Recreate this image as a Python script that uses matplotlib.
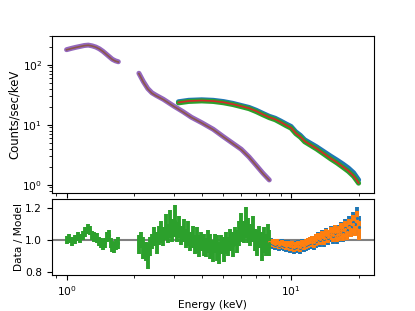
import numpy as np
import matplotlib
matplotlib.use("Agg")
import matplotlib.pyplot as plt

# --- spectrum (top panel) ---
# soft instrument, two energy chunks
e_soft1 = [1.00, 1.05, 1.10, 1.15, 1.20, 1.25, 1.30, 1.35, 1.40, 1.45, 1.50, 1.55, 1.60, 1.65, 1.70]
c_soft1 = [178, 187, 195, 202, 209, 212, 206, 197, 184, 168, 151, 136, 123, 116, 112]
m_soft1 = [177, 186, 194, 201, 208, 211, 205, 196, 183, 167, 150, 135, 122, 115, 111]

e_soft2 = [2.10, 2.20, 2.30, 2.40, 2.50, 2.70, 3.00, 3.30, 3.60, 4.00, 4.50, 5.00, 5.50,
           6.00, 6.50, 7.00, 7.50, 8.00]
c_soft2 = [72, 52, 40, 34, 31, 26.5, 20.5, 16.5, 13.3, 10.8, 8.4, 6.3, 4.9,
           3.9, 2.9, 2.1, 1.55, 1.2]
m_soft2 = [71, 51, 39.5, 33.5, 30.5, 26.2, 20.3, 16.3, 13.2, 10.7, 8.3, 6.25, 4.85,
           3.85, 2.88, 2.08, 1.53, 1.19]

# hard instruments (A = blue, B = green)
e_hard = [3.15, 3.5, 4.0, 4.5, 5.0, 5.5, 6.0, 6.5, 7.0, 7.5, 8.0, 8.5, 9.0, 9.5, 10.0,
          10.5, 11.0, 11.5, 12.0, 13.0, 14.0, 15.0, 16.0, 17.0, 18.0, 19.0, 20.0]
c_hard_a = [24.1, 25.5, 26.0, 25.5, 24.3, 22.7, 20.9, 19.4, 17.4, 15.4, 13.8, 12.8, 11.5, 10.3, 9.35,
            7.6, 6.65, 5.6, 5.1, 4.28, 3.56, 3.0, 2.58, 2.22, 1.9, 1.58, 1.2]
c_hard_b = [23.1, 24.4, 24.9, 24.4, 23.2, 21.7, 20.0, 18.5, 16.5, 14.6, 13.1, 12.1, 10.8, 9.65, 8.75,
            7.1, 6.2, 5.2, 4.72, 3.93, 3.24, 2.7, 2.31, 1.96, 1.67, 1.38, 1.06]
m_hard_a = [23.8, 25.0, 25.5, 25.0, 23.8, 22.2, 20.5, 19.0, 17.0, 15.0, 13.4, 12.4, 11.1, 9.9, 9.0,
            7.3, 6.35, 5.35, 4.85, 4.05, 3.35, 2.8, 2.38, 2.03, 1.72, 1.42, 1.09]
m_hard_b = [23.5, 24.8, 25.3, 24.8, 23.6, 22.0, 20.3, 18.8, 16.8, 14.8, 13.3, 12.3, 11.0, 9.8, 8.9,
            7.2, 6.3, 5.3, 4.8, 4.0, 3.3, 2.75, 2.35, 2.0, 1.7, 1.4, 1.07]

# --- ratios (bottom panel) ---
e_r_hard = [8.00, 8.17, 8.34, 8.52, 8.70, 8.88, 9.07, 9.26, 9.46, 9.66, 9.86, 10.07, 10.28, 10.50,
            10.72, 10.95, 11.18, 11.42, 11.66, 11.91, 12.16, 12.42, 12.68, 12.95, 13.22, 13.50,
            13.79, 14.08, 14.38, 14.68, 14.99, 15.31, 15.63, 15.96, 16.30, 16.65, 17.00, 17.36,
            17.73, 18.10, 18.49, 18.88, 19.28, 19.69, 20.00]
r_hard_a = [0.985, 0.98, 0.975, 0.97, 0.975, 0.965, 0.97, 0.965, 0.96, 0.965, 0.955, 0.96, 0.95, 0.955,
            0.96, 0.95, 0.965, 0.96, 0.97, 0.975, 0.98, 0.985, 0.98, 0.995, 1.005, 1.00, 1.015, 1.005,
            1.025, 1.015, 1.035, 1.025, 1.045, 1.03, 1.04, 1.06, 1.045, 1.075, 1.06, 1.09, 1.08,
            1.11, 1.10, 1.14, 1.08]
err_hard_a = [0.030, 0.030, 0.030, 0.032, 0.032, 0.032, 0.033, 0.033, 0.034, 0.034, 0.035, 0.035,
              0.036, 0.036, 0.037, 0.037, 0.038, 0.038, 0.039, 0.040, 0.040, 0.041, 0.042, 0.043,
              0.044, 0.045, 0.046, 0.047, 0.048, 0.049, 0.050, 0.051, 0.052, 0.053, 0.054, 0.055,
              0.056, 0.057, 0.058, 0.060, 0.062, 0.064, 0.066, 0.068, 0.070]
r_hard_b = [0.99, 0.985, 0.98, 0.975, 0.98, 0.97, 0.975, 0.97, 0.965, 0.97, 0.96, 0.965, 0.955, 0.96,
            0.965, 0.955, 0.97, 0.965, 0.975, 0.98, 0.985, 0.99, 0.985, 1.00, 1.01, 1.005, 1.02, 1.01,
            1.03, 1.02, 1.04, 1.03, 1.05, 1.03, 1.04, 1.06, 1.04, 1.07, 1.05, 1.08, 1.07, 1.10,
            1.08, 1.12, 1.06]
err_hard_b = [0.022, 0.022, 0.023, 0.023, 0.024, 0.024, 0.025, 0.025, 0.026, 0.026, 0.027, 0.027,
              0.028, 0.028, 0.029, 0.029, 0.030, 0.030, 0.031, 0.032, 0.032, 0.033, 0.034, 0.035,
              0.036, 0.037, 0.038, 0.039, 0.040, 0.041, 0.042, 0.043, 0.044, 0.045, 0.046, 0.047,
              0.048, 0.049, 0.050, 0.052, 0.054, 0.056, 0.058, 0.060, 0.062]

e_r_soft1 = [1.00, 1.03, 1.06, 1.09, 1.12, 1.15, 1.18, 1.21, 1.24, 1.27, 1.30, 1.33, 1.36, 1.39,
             1.42, 1.45, 1.48, 1.51, 1.54, 1.57, 1.60, 1.63, 1.66, 1.69]
r_soft1 = [1.00, 1.01, 0.99, 1.00, 1.02, 1.01, 1.03, 1.05, 1.07, 1.06, 1.03, 1.02, 1.01, 0.99,
           0.98, 0.97, 0.98, 1.02, 1.03, 0.98, 0.96, 0.95, 0.97, 0.98]
err_soft1 = [0.025, 0.027, 0.026, 0.028, 0.027, 0.029, 0.028, 0.030, 0.032, 0.030, 0.029, 0.030,
             0.031, 0.030, 0.032, 0.031, 0.033, 0.032, 0.034, 0.033, 0.035, 0.034, 0.036, 0.037]

e_r_soft2 = [2.10, 2.15, 2.20, 2.25, 2.30, 2.35, 2.41, 2.46, 2.52, 2.58, 2.64, 2.70, 2.76, 2.83,
             2.89, 2.96, 3.03, 3.10, 3.17, 3.24, 3.32, 3.39, 3.47, 3.55, 3.64, 3.72, 3.81, 3.89,
             3.98, 4.08, 4.17, 4.27, 4.37, 4.47, 4.57, 4.68, 4.78, 4.89, 5.01, 5.12, 5.24, 5.36,
             5.49, 5.61, 5.74, 5.88, 6.01, 6.15, 6.30, 6.44, 6.59, 6.75, 6.90, 7.06, 7.23, 7.39,
             7.57, 7.74, 7.92, 8.00]
r_soft2 = [0.97, 1.00, 0.95, 0.93, 0.90, 0.96, 0.99, 1.02, 0.98, 1.03, 1.05, 1.02, 1.08, 1.04,
           1.10, 1.06, 1.12, 1.05, 1.08, 1.03, 1.06, 1.01, 1.04, 0.99, 1.02, 0.97, 1.00, 0.96,
           0.99, 0.97, 0.95, 0.99, 0.96, 0.93, 0.98, 0.95, 0.92, 0.97, 0.94, 0.98, 0.96, 1.00,
           0.97, 1.02, 0.99, 1.04, 1.08, 1.05, 1.11, 1.06, 1.03, 1.07, 1.00, 0.98, 1.02, 0.96,
           1.00, 0.97, 1.01, 0.98]
err_soft2 = [0.06, 0.05, 0.07, 0.06, 0.08, 0.06, 0.05, 0.06, 0.07, 0.06, 0.07, 0.06, 0.08, 0.06,
             0.09, 0.07, 0.10, 0.06, 0.07, 0.06, 0.07, 0.06, 0.08, 0.06, 0.07, 0.06, 0.08, 0.07,
             0.06, 0.07, 0.06, 0.07, 0.08, 0.07, 0.06, 0.08, 0.07, 0.06, 0.08, 0.07, 0.06, 0.07,
             0.08, 0.06, 0.07, 0.08, 0.09, 0.07, 0.10, 0.08, 0.07, 0.08, 0.07, 0.08, 0.07, 0.09,
             0.08, 0.07, 0.09, 0.08]


def main():
    plt.rcParams['font.size'] = 7.7
    fig, (ax, axr) = plt.subplots(2, 1, sharex=True, figsize=(4.15, 3.11), dpi=100,
                                  gridspec_kw={'height_ratios': [2.05, 1], 'hspace': 0.052})
    fig.subplots_adjust(left=0.125, right=0.9, top=0.884, bottom=0.116)

    # top: data bands with model lines over them
    band = dict(lw=3.6, solid_capstyle='round', solid_joinstyle='round')
    ax.plot(e_hard, c_hard_a, color='C0', **band)
    ax.plot(e_hard, m_hard_a, color='C1', lw=1.2)
    ax.plot(e_hard, c_hard_b, color='C2', **band)
    ax.plot(e_hard, m_hard_b, color='C3', lw=1.2)
    ax.plot(e_soft1, c_soft1, color='C4', **band)
    ax.plot(e_soft2, c_soft2, color='C4', **band)
    ax.plot(e_soft1, m_soft1, color='C5', lw=1.2)
    ax.plot(e_soft2, m_soft2, color='C5', lw=1.2)
    ax.set_xscale('log')
    ax.set_yscale('log')
    ax.set_xlim(0.86, 23.3)
    ax.set_ylim(0.74, 300)
    ax.set_ylabel('Counts/sec/keV', fontsize=8.4, labelpad=1)

    # bottom: ratios
    axr.axhline(1.0, color='gray', lw=1.5, zorder=0)
    eb = dict(fmt='.', ms=2.5, elinewidth=2.8, ls='none')
    axr.errorbar(e_r_hard, r_hard_a, yerr=err_hard_a, color='C0', **eb)
    axr.errorbar(e_r_hard, r_hard_b, yerr=err_hard_b, color='C1', **eb)
    axr.errorbar(e_r_soft1, r_soft1, yerr=err_soft1, color='C2', **eb)
    axr.errorbar(e_r_soft2, r_soft2, yerr=err_soft2, color='C2', **eb)
    axr.set_ylim(0.78, 1.26)
    axr.set_yticks([0.8, 1.0, 1.2])
    axr.set_ylabel('Data / Model', labelpad=1)
    axr.set_xlabel('Energy (keV)', labelpad=1)

    fig.savefig('out.png', dpi=100)


if __name__ == "__main__":
    main()
